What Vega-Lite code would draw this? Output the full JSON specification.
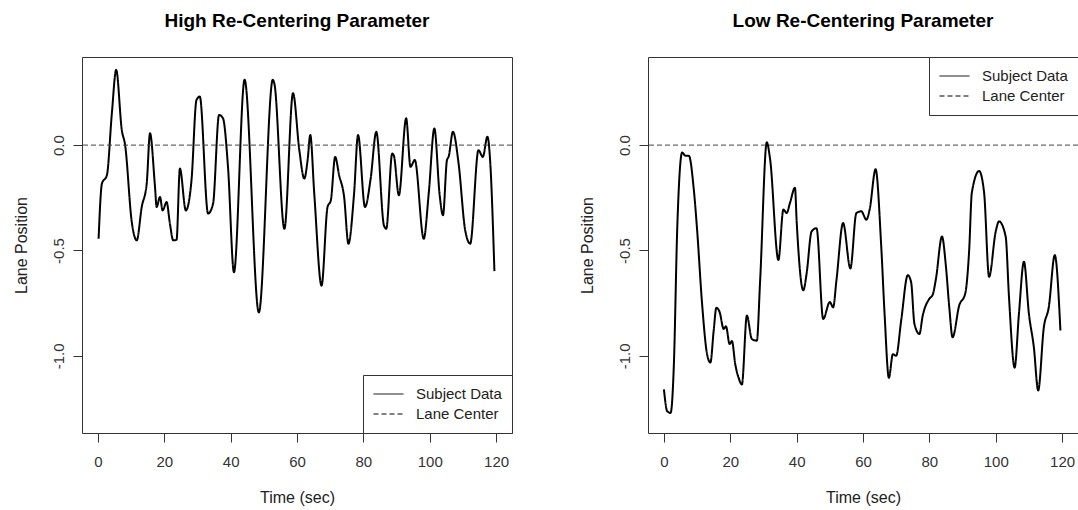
{
  "$schema": "https://vega.github.io/schema/vega-lite/v6.json",
  "background": "white",
  "padding": {"left": 12, "top": 11, "right": 0, "bottom": 0},
  "spacing": 65,
  "datasets": {
    "high": [
      {"t": 0.2, "pos": -0.444}, {"t": 1.2, "pos": -0.183}, {"t": 2.7, "pos": -0.143}, {"t": 4.2, "pos": 0.151},
      {"t": 5.5, "pos": 0.357}, {"t": 7.2, "pos": 0.071}, {"t": 8.2, "pos": 0.0}, {"t": 10.2, "pos": -0.365},
      {"t": 11.7, "pos": -0.452}, {"t": 13.2, "pos": -0.294}, {"t": 14.7, "pos": -0.183}, {"t": 15.7, "pos": 0.056},
      {"t": 17.2, "pos": -0.198}, {"t": 17.7, "pos": -0.294}, {"t": 18.7, "pos": -0.246}, {"t": 19.5, "pos": -0.31},
      {"t": 20.7, "pos": -0.27}, {"t": 21.7, "pos": -0.373}, {"t": 22.7, "pos": -0.452}, {"t": 23.7, "pos": -0.449},
      {"t": 24.7, "pos": -0.111}, {"t": 26.5, "pos": -0.31}, {"t": 28.2, "pos": -0.167}, {"t": 29.7, "pos": 0.214},
      {"t": 30.7, "pos": 0.23}, {"t": 33.2, "pos": -0.325}, {"t": 34.7, "pos": -0.278}, {"t": 36.5, "pos": 0.143},
      {"t": 37.7, "pos": 0.127}, {"t": 39.2, "pos": -0.103}, {"t": 41.0, "pos": -0.603}, {"t": 44.2, "pos": 0.31},
      {"t": 48.5, "pos": -0.794}, {"t": 52.7, "pos": 0.31}, {"t": 53.2, "pos": 0.29}, {"t": 56.2, "pos": -0.397},
      {"t": 58.8, "pos": 0.246}, {"t": 60.7, "pos": -0.024}, {"t": 62.2, "pos": -0.159}, {"t": 63.2, "pos": -0.071},
      {"t": 64.0, "pos": 0.048}, {"t": 65.2, "pos": -0.23}, {"t": 67.4, "pos": -0.667}, {"t": 69.2, "pos": -0.294},
      {"t": 70.2, "pos": -0.262}, {"t": 71.5, "pos": -0.056}, {"t": 72.7, "pos": -0.143}, {"t": 74.2, "pos": -0.246},
      {"t": 75.5, "pos": -0.468}, {"t": 77.2, "pos": -0.23}, {"t": 78.4, "pos": 0.048}, {"t": 80.5, "pos": -0.294},
      {"t": 82.2, "pos": -0.159}, {"t": 83.9, "pos": 0.063}, {"t": 86.2, "pos": -0.381}, {"t": 86.9, "pos": -0.397},
      {"t": 88.7, "pos": -0.04}, {"t": 89.2, "pos": -0.05}, {"t": 90.7, "pos": -0.238}, {"t": 92.9, "pos": 0.127},
      {"t": 94.2, "pos": -0.103}, {"t": 95.5, "pos": -0.071}, {"t": 98.2, "pos": -0.444}, {"t": 99.7, "pos": -0.23},
      {"t": 101.4, "pos": 0.079}, {"t": 103.0, "pos": -0.238}, {"t": 104.0, "pos": -0.333}, {"t": 105.2, "pos": -0.071},
      {"t": 105.7, "pos": -0.055}, {"t": 107.0, "pos": 0.063}, {"t": 108.7, "pos": -0.087}, {"t": 110.7, "pos": -0.405},
      {"t": 112.2, "pos": -0.468}, {"t": 114.7, "pos": -0.024}, {"t": 116.0, "pos": -0.056}, {"t": 117.4, "pos": 0.04},
      {"t": 118.2, "pos": -0.071}, {"t": 119.5, "pos": -0.598}
    ],
    "low": [
      {"t": 0, "pos": -1.159}, {"t": 1, "pos": -1.263}, {"t": 2, "pos": -1.271}, {"t": 3, "pos": -1.04},
      {"t": 4, "pos": -0.402}, {"t": 5.5, "pos": -0.035}, {"t": 6.5, "pos": -0.051}, {"t": 7.5, "pos": -0.05},
      {"t": 9, "pos": -0.21}, {"t": 10, "pos": -0.402}, {"t": 11.5, "pos": -0.753}, {"t": 13, "pos": -0.992},
      {"t": 14, "pos": -1.032}, {"t": 15, "pos": -0.88}, {"t": 15.8, "pos": -0.772}, {"t": 16.8, "pos": -0.793},
      {"t": 18, "pos": -0.872}, {"t": 18.7, "pos": -0.86}, {"t": 19.8, "pos": -0.944}, {"t": 20.5, "pos": -0.93},
      {"t": 21.5, "pos": -1.04}, {"t": 22.5, "pos": -1.104}, {"t": 23.5, "pos": -1.136}, {"t": 25, "pos": -0.809},
      {"t": 26.5, "pos": -0.92}, {"t": 28, "pos": -0.928}, {"t": 29, "pos": -0.641}, {"t": 31, "pos": 0.013},
      {"t": 32, "pos": -0.067}, {"t": 34.5, "pos": -0.545}, {"t": 36, "pos": -0.306}, {"t": 37, "pos": -0.322},
      {"t": 38, "pos": -0.274}, {"t": 39.5, "pos": -0.202}, {"t": 40, "pos": -0.36}, {"t": 42, "pos": -0.689},
      {"t": 43, "pos": -0.61}, {"t": 44.5, "pos": -0.41}, {"t": 46, "pos": -0.394}, {"t": 48, "pos": -0.825},
      {"t": 50, "pos": -0.745}, {"t": 51, "pos": -0.77}, {"t": 52, "pos": -0.641}, {"t": 54, "pos": -0.37},
      {"t": 56.2, "pos": -0.585}, {"t": 58, "pos": -0.322}, {"t": 59.5, "pos": -0.314}, {"t": 61, "pos": -0.354},
      {"t": 62, "pos": -0.306}, {"t": 63.8, "pos": -0.115}, {"t": 65.5, "pos": -0.482}, {"t": 66.5, "pos": -0.8},
      {"t": 67.8, "pos": -1.104}, {"t": 69, "pos": -0.992}, {"t": 70, "pos": -1.0}, {"t": 71.5, "pos": -0.833},
      {"t": 73.5, "pos": -0.617}, {"t": 74.5, "pos": -0.65}, {"t": 75.5, "pos": -0.848}, {"t": 77, "pos": -0.896},
      {"t": 78, "pos": -0.809}, {"t": 80, "pos": -0.729}, {"t": 81, "pos": -0.71}, {"t": 82, "pos": -0.633},
      {"t": 83.8, "pos": -0.434}, {"t": 85, "pos": -0.577}, {"t": 86, "pos": -0.769}, {"t": 87, "pos": -0.912},
      {"t": 89, "pos": -0.761}, {"t": 90.8, "pos": -0.705}, {"t": 92, "pos": -0.498}, {"t": 92.8, "pos": -0.226},
      {"t": 95, "pos": -0.123}, {"t": 96.5, "pos": -0.226}, {"t": 98, "pos": -0.625}, {"t": 100, "pos": -0.41},
      {"t": 101, "pos": -0.362}, {"t": 103, "pos": -0.434}, {"t": 104, "pos": -0.721}, {"t": 105.7, "pos": -1.056},
      {"t": 107, "pos": -0.8}, {"t": 108.5, "pos": -0.553}, {"t": 110, "pos": -0.8}, {"t": 111.5, "pos": -0.96},
      {"t": 112.8, "pos": -1.164}, {"t": 114.5, "pos": -0.865}, {"t": 116, "pos": -0.769}, {"t": 117.8, "pos": -0.522},
      {"t": 119.5, "pos": -0.88}
    ]
  },
  "config": {
    "font": "Liberation Sans",
    "view": {"stroke": "#333", "strokeWidth": 1},
    "title": {"fontSize": 19, "fontWeight": "bold", "color": "black", "offset": 26, "anchor": "middle", "font": "Liberation Sans"},
    "axis": {
      "grid": false, "domain": false, "tickColor": "#333", "tickSize": 9,
      "labelFont": "Liberation Sans", "labelFontSize": 15, "labelColor": "#333",
      "titleFont": "Liberation Sans", "titleFontSize": 16, "titleFontWeight": "normal", "titleColor": "#222"
    },
    "legend": {
      "title": null, "offset": 0, "padding": 10, "strokeColor": "#333", "fillColor": "white", "cornerRadius": 0,
      "symbolType": "stroke", "symbolSize": 900, "symbolStrokeWidth": 1, "symbolStrokeColor": "black",
      "labelFont": "Liberation Sans", "labelFontSize": 15, "labelColor": "#222", "labelOffset": 12, "clipHeight": 18, "rowPadding": 2
    }
  },
  "hconcat": [
    {
      "title": "High Re-Centering Parameter",
      "width": 430, "height": 376,
      "layer": [
        {
          "data": {"name": "high"},
          "mark": {"type": "line", "color": "black", "strokeWidth": 2, "interpolate": "monotone"},
          "encoding": {
            "x": {"field": "t", "type": "quantitative",
                  "scale": {"domain": [-4.8, 124.8], "nice": false, "zero": false},
                  "axis": {"values": [0, 20, 40, 60, 80, 100, 120], "title": "Time (sec)", "labelPadding": 12, "titlePadding": 20}},
            "y": {"field": "pos", "type": "quantitative",
                  "scale": {"domain": [-1.366, 0.418], "nice": false, "zero": false},
                  "axis": {"values": [-1, -0.5, 0], "labelExpr": "replace(format(datum.value, '.1f'), '\u2212', '-')",
                           "labelAngle": -90, "labelAlign": "center", "labelBaseline": "alphabetic", "labelPadding": 10,
                           "title": "Lane Position", "titlePadding": 22}},
            "strokeDash": {"datum": "Subject Data", "type": "nominal",
                           "scale": {"domain": ["Subject Data", "Lane Center"], "range": [[1, 0], [5, 3]]},
                           "legend": {"orient": "bottom-right"}}
          }
        },
        {
          "data": {"values": [{}]},
          "mark": {"type": "rule", "color": "#444", "strokeWidth": 1},
          "encoding": {"y": {"datum": 0}, "strokeDash": {"datum": "Lane Center", "type": "nominal"}}
        }
      ]
    },
    {
      "title": "Low Re-Centering Parameter",
      "width": 430, "height": 376,
      "layer": [
        {
          "data": {"name": "low"},
          "mark": {"type": "line", "color": "black", "strokeWidth": 2, "interpolate": "monotone"},
          "encoding": {
            "x": {"field": "t", "type": "quantitative",
                  "scale": {"domain": [-4.8, 124.8], "nice": false, "zero": false},
                  "axis": {"values": [0, 20, 40, 60, 80, 100, 120], "title": "Time (sec)", "labelPadding": 12, "titlePadding": 20}},
            "y": {"field": "pos", "type": "quantitative",
                  "scale": {"domain": [-1.366, 0.418], "nice": false, "zero": false},
                  "axis": {"values": [-1, -0.5, 0], "labelExpr": "replace(format(datum.value, '.1f'), '\u2212', '-')",
                           "labelAngle": -90, "labelAlign": "center", "labelBaseline": "alphabetic", "labelPadding": 10,
                           "title": "Lane Position", "titlePadding": 22}},
            "strokeDash": {"datum": "Subject Data", "type": "nominal",
                           "scale": {"domain": ["Subject Data", "Lane Center"], "range": [[1, 0], [5, 3]]},
                           "legend": {"orient": "top-right"}}
          }
        },
        {
          "data": {"values": [{}]},
          "mark": {"type": "rule", "color": "#444", "strokeWidth": 1},
          "encoding": {"y": {"datum": 0}, "strokeDash": {"datum": "Lane Center", "type": "nominal"}}
        }
      ]
    }
  ]
}
